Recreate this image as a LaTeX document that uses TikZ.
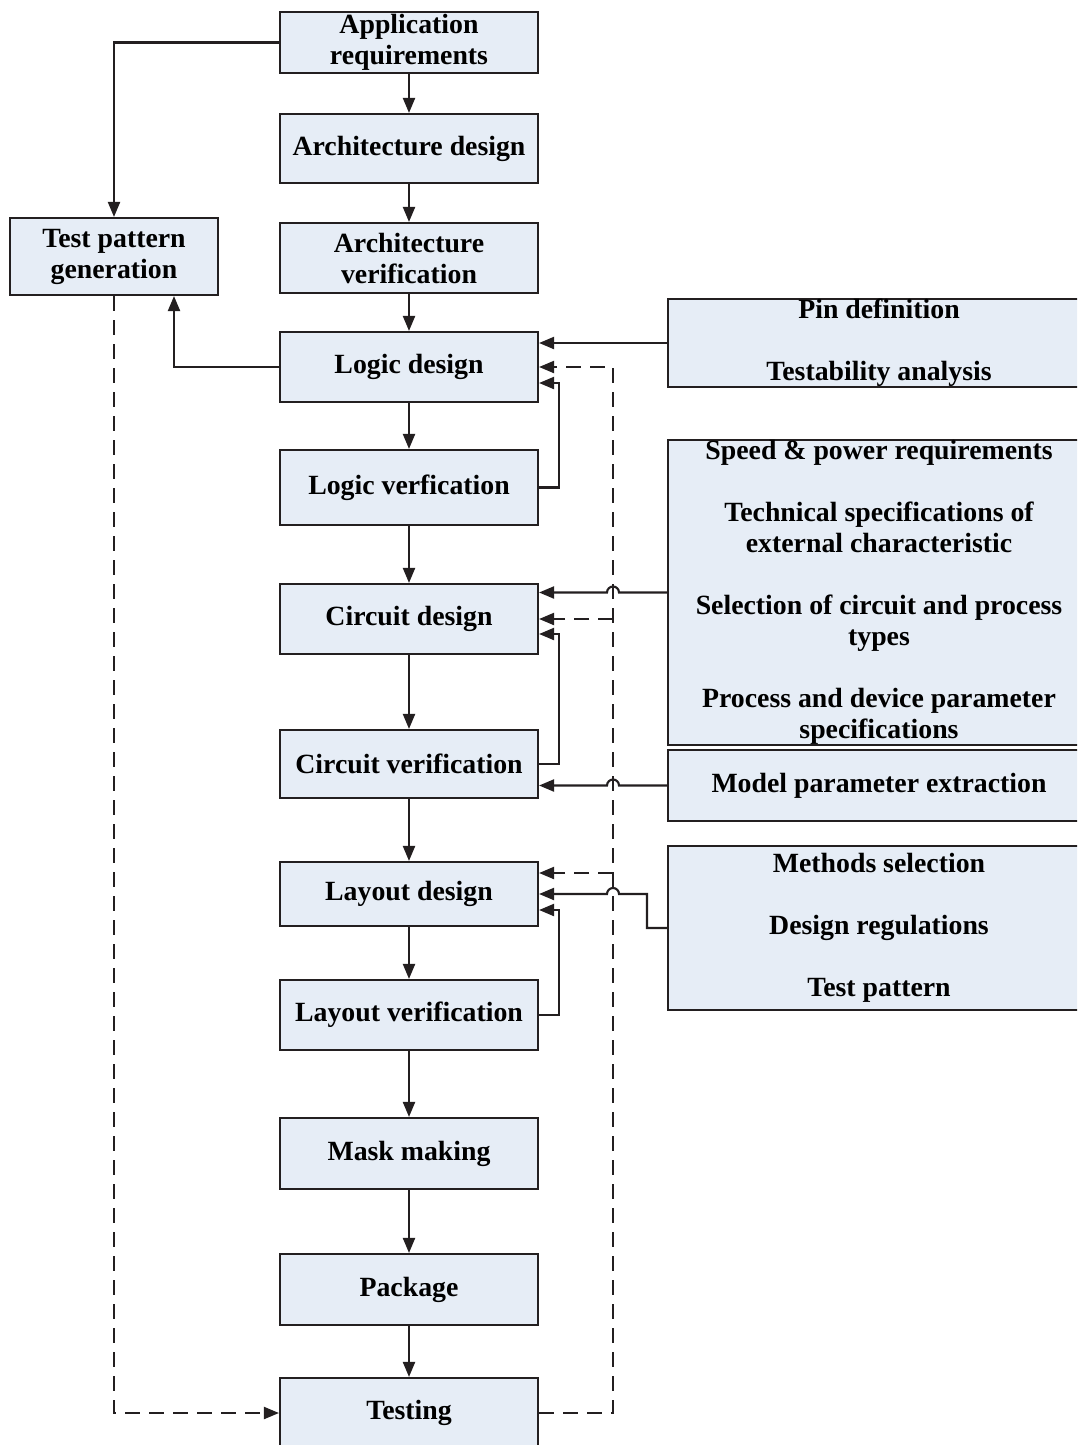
\documentclass[tikz,border=0pt]{standalone}
\usepackage{fontspec}
\setmainfont{Liberation Serif}
\usetikzlibrary{arrows.meta,calc}
\definecolor{boxfill}{RGB}{230,237,246}
\definecolor{ink}{RGB}{35,31,32}

\begin{document}
\begin{tikzpicture}[x=1pt, y=-1pt,
      box/.style = {draw=ink, line width=2.1pt, fill=boxfill,
                    minimum width=258pt, align=center, inner sep=0pt,
                    font=\fontsize{27.8}{31}\selectfont\bfseries},
     side/.style = {box, minimum width=422pt},
      lnk/.style = {draw=ink, line width=2.1pt,
                    -{Triangle[length=15pt,width=12pt]}},
      dsh/.style = {lnk, dash pattern=on 15pt off 9pt}
                                ]
    \clip (0,0) rectangle (1077,1445);
    % main flow
    \node[box, minimum height=61pt] (app)    at (409,42.5)   {Application\\requirements};
    \node[box, minimum height=69pt] (archd)  at (409,148.5)  {Architecture design};
    \node[box, minimum height=70pt] (archv)  at (409,258)    {Architecture\\verification};
    \node[box, minimum height=70pt] (logicd) at (409,367)    {Logic design};
    \node[box, minimum height=75pt] (logicv) at (409,487.5)  {Logic verfication};
    \node[box, minimum height=70pt] (circd)  at (409,619)    {Circuit design};
    \node[box, minimum height=68pt] (circv)  at (409,764)    {Circuit verification};
    \node[box, minimum height=64pt] (layd)   at (409,894)    {Layout design};
    \node[box, minimum height=70pt] (layv)   at (409,1015)   {Layout verification};
    \node[box, minimum height=71pt] (mask)   at (409,1153.5) {Mask making};
    \node[box, minimum height=71pt] (pack)   at (409,1289.5) {Package};
    \node[box, minimum height=70pt] (test)   at (409,1413)   {Testing};
    % test side
    \node[box, minimum width=208pt, minimum height=77pt] (tpg) at (114,256.5)
        {Test pattern\\generation};
    % inputs on the right
    \node[side, minimum height=88pt]  (pin)   at (879,343)   {Pin definition\\[31pt]Testability analysis};
    \node[side, minimum height=301pt] (spec)  at (879,592.5)
        {Speed \& power requirements\\[31pt]Technical specifications of\\external characteristic\\[31pt]%
         Selection of circuit and process\\types\\[31pt]Process and device parameter\\specifications};
    \node[side, minimum height=71pt]  (model) at (879,785.5) {Model parameter extraction};
    \node[side, minimum height=164pt] (meth)  at (879,928)
        {Methods selection\\[31pt]Design regulations\\[31pt]Test pattern};
    \coordinate (bus) at (613,0);

    \foreach \a/\b in {app/archd, archd/archv, archv/logicd, logicd/logicv,
                       logicv/circd, circd/circv, circv/layd, layd/layv,
                       layv/mask, mask/pack, pack/test}
        \draw[lnk] (\a) -- (\b);

    % test pattern loop
    \draw[lnk] (app.west) -| (tpg.north);
    \draw[lnk] (logicd.west) -| ($(tpg.south)+(60pt,0)$);
    \draw[dsh] (tpg.south) |- (test.west);
    \draw[dsh] (test.east) -- (bus |- test.east) -- (bus |- logicd.east) -- (logicd.east);
    \draw[dsh] (bus |- circd.east) -- (circd.east);
    \coordinate (layin) at ($(layd.east)+(0,-21)$);
    \draw[dsh] (bus |- layin) -- (layin);

    % verification feedback
    \draw[lnk] (logicv.east) -- ++(20pt,0) |- ($(logicd.east)+(0,16)$);
    \draw[lnk] (circv.east)  -- ++(20pt,0) |- ($(circd.east)+(0,15)$);
    \draw[lnk] (layv.east)   -- ++(20pt,0) |- ($(layd.east)+(0,16)$);

    % inputs
    \draw[lnk] (pin.west) -- (pin.west -| logicd.east);
    \draw[lnk] (spec.west) -- ($(bus |- spec.west)+(6pt,0)$)
        arc[start angle=0, end angle=180, radius=6pt] -- (spec.west -| circd.east);
    \draw[lnk] (model.west) -- ($(bus |- model.west)+(6pt,0)$)
        arc[start angle=0, end angle=180, radius=6pt] -- (model.west -| circv.east);
    \draw[lnk] (meth.west) -- ++(-20pt,0) |- ($(bus |- layd.east)+(6pt,0)$)
        arc[start angle=0, end angle=180, radius=6pt] -- (layd.east);
\end{tikzpicture}
\end{document}
